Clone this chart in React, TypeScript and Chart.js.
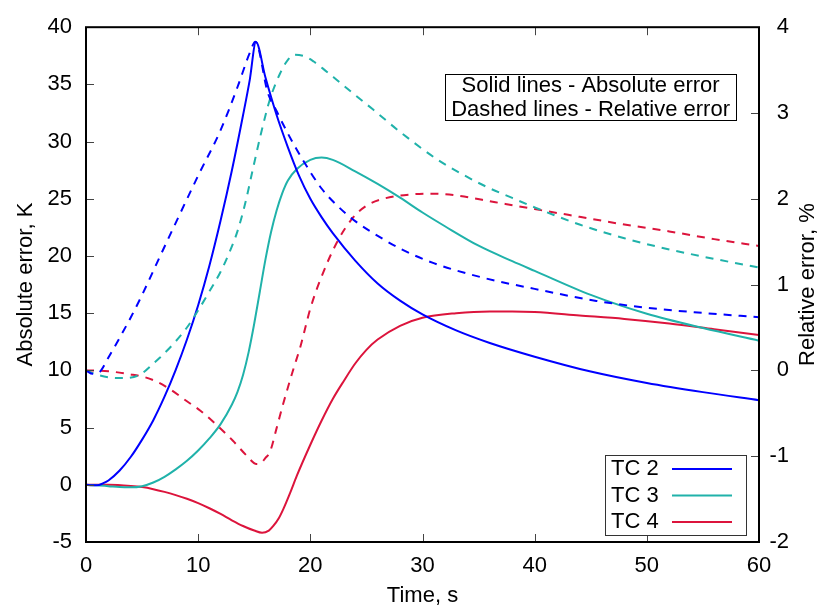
import React, { useEffect, useRef } from "react";
import { Chart, registerables } from "chart.js";

Chart.register(...registerables);

const FONT = "'Liberation Sans', Arial, Helvetica, sans-serif";
const FONT_SIZE = 22;

// ---- axes ----
const xTicks = [0, 10, 20, 30, 40, 50, 60];
const yTicks = [-5, 0, 5, 10, 15, 20, 25, 30, 35, 40];
const y2Ticks = [-2, -1, 0, 1, 2, 3, 4];
const xTitle = "Time, s";
const yTitle = "Absolute error, K";
const y2Title = "Relative error, %";
const noteLines = ["Solid lines - Absolute error", "Dashed lines - Relative error"];
const seriesNames = ["TC 2", "TC 3", "TC 4"];
const seriesColors = ["#0000ff", "#20b2aa", "#dc143c"];

// ---- TC 2 absolute error (K) ----
const tc2AbsT = [0, 0.5, 1, 1.5, 2, 3, 4, 5, 6, 7, 8, 9, 10, 11, 12, 13, 14, 14.6, 15.15, 16, 17, 18, 19, 20, 21, 22, 24, 26, 28, 30, 33, 36, 40, 45, 50, 55, 60];
const tc2AbsV = [0, -0.05, -0.05, 0.12, 0.38, 1.25, 2.45, 3.95, 5.65, 7.7, 10.05, 12.7, 15.7, 19.15, 23.1, 27.45, 32.3, 35.4, 38.7, 35.6, 32.3, 29.5, 27.0, 25.0, 23.4, 22.0, 19.6, 17.6, 16.1, 14.9, 13.5, 12.4, 11.2, 9.9, 8.9, 8.1, 7.4];

// ---- TC 3 absolute error (K) ----
const tc3AbsT = [0, 1, 2, 3, 4, 5, 6, 7, 8, 9, 10, 11, 12, 13, 13.5, 14, 14.5, 15, 15.5, 16, 16.5, 17, 17.5, 18, 18.8, 20, 21, 22, 24, 26, 28, 30, 32, 35, 38, 40, 45, 50, 55, 60];
const tc3AbsV = [0, -0.05, -0.12, -0.2, -0.22, -0.12, 0.2, 0.7, 1.35, 2.1, 3.0, 4.05, 5.3, 7.0, 8.1, 9.6, 11.6, 14.1, 16.9, 19.7, 22.1, 24.0, 25.5, 26.6, 27.6, 28.4, 28.6, 28.4, 27.4, 26.3, 25.1, 23.8, 22.6, 20.9, 19.55, 18.7, 16.6, 14.95, 13.7, 12.6];

// ---- TC 4 absolute error (K) ----
const tc4AbsT = [0, 2, 4, 5, 6, 7, 8, 9, 10, 11, 12, 13, 14, 15, 15.7, 16.3, 16.7, 17.2, 17.6, 18.2, 18.8, 20, 21, 22, 23, 24, 25, 26, 28, 30, 33, 36, 38, 40, 44, 48, 52, 56, 60];
const tc4AbsV = [0, 0, -0.1, -0.2, -0.38, -0.62, -0.9, -1.22, -1.6, -2.05, -2.55, -3.1, -3.6, -4.0, -4.2, -4.0, -3.6, -2.9, -2.1, -0.7, 0.8, 3.5, 5.6, 7.5, 9.1, 10.6, 11.8, 12.7, 13.9, 14.6, 15.0, 15.15, 15.15, 15.1, 14.8, 14.5, 14.1, 13.6, 13.1];

// ---- TC 2 relative error (%) ----
const tc2RelT = [0, 0.6, 1.2, 2, 3, 4, 5, 6.6, 8, 10, 12, 13.5, 14.6, 15.1, 16.2, 17, 18, 19.3, 21, 22.4, 24, 26.5, 28, 31, 35.4, 40, 45.5, 50, 55, 60];
const tc2RelV = [0, -0.04, -0.02, 0.15, 0.38, 0.62, 0.88, 1.33, 1.72, 2.27, 2.8, 3.3, 3.7, 3.83, 3.24, 3.02, 2.76, 2.46, 2.12, 1.92, 1.74, 1.53, 1.42, 1.25, 1.08, 0.95, 0.81, 0.73, 0.67, 0.62];

// ---- TC 3 relative error (%) ----
const tc3RelT = [0, 1, 2, 3.3, 4.8, 6, 6.6, 7.8, 9, 10, 11, 12, 12.7, 13.5, 14.2, 14.9, 15.6, 16.4, 17.3, 18, 18.6, 19.5, 20.3, 21.1, 22.5, 23.8, 25.6, 28, 31.3, 33.5, 35.7, 38, 40, 44, 48, 52, 56, 60];
const tc3RelV = [0, -0.05, -0.08, -0.09, -0.05, 0.08, 0.15, 0.31, 0.5, 0.7, 0.92, 1.15, 1.35, 1.62, 1.95, 2.36, 2.76, 3.16, 3.46, 3.62, 3.68, 3.66, 3.6, 3.52, 3.37, 3.23, 3.04, 2.78, 2.46, 2.29, 2.14, 2.01, 1.9, 1.7, 1.54, 1.41, 1.3, 1.2];

// ---- TC 4 relative error (%) ----
const tc4RelT = [0, 2, 3.9, 5, 6.3, 7.5, 9, 10.2, 11.6, 13.1, 14.3, 15.2, 15.6, 16, 16.4, 17, 17.6, 18.5, 19.1, 20, 20.9, 22.4, 23.8, 25, 26.5, 28.9, 31, 33, 36.5, 40, 44, 48, 52, 56, 60];
const tc4RelV = [0, -0.01, -0.045, -0.07, -0.13, -0.22, -0.36, -0.47, -0.63, -0.82, -0.99, -1.09, -1.08, -1.02, -0.95, -0.67, -0.38, 0.02, 0.27, 0.72, 1.06, 1.5, 1.78, 1.92, 2.0, 2.05, 2.06, 2.04, 1.96, 1.88, 1.79, 1.7, 1.62, 1.53, 1.45];

const zip = (t: number[], v: number[]) => t.map((x, i) => ({ x, y: v[i] }));

const decorPlugin = {
  id: "decor",
  afterDatasetsDraw(chart: any) {
    const { ctx, chartArea: a, scales } = chart;
    const xs = scales.x, ys = scales.y, y2s = scales.y2;
    ctx.save();
    const line = (x1: number, y1: number, x2: number, y2: number) => {
      ctx.beginPath();
      ctx.moveTo(x1, y1);
      ctx.lineTo(x2, y2);
      ctx.stroke();
    };
    // inward tick marks (gnuplot style)
    ctx.strokeStyle = "#444";
    ctx.lineWidth = 1;
    const TL = 8;
    xTicks.forEach((v, i) => {
      if (i === 0 || i === xTicks.length - 1) return;
      const px = Math.round(xs.getPixelForValue(v)) + 0.5;
      line(px, a.bottom, px, a.bottom - TL);
      line(px, a.top, px, a.top + TL);
    });
    yTicks.forEach((v, i) => {
      if (i === 0 || i === yTicks.length - 1) return;
      const py = Math.round(ys.getPixelForValue(v)) + 0.5;
      line(a.left, py, a.left + TL, py);
    });
    y2Ticks.forEach((v, i) => {
      if (i === 0 || i === y2Ticks.length - 1) return;
      const py = Math.round(y2s.getPixelForValue(v)) + 0.5;
      line(a.right, py, a.right - TL, py);
    });
    // frame
    ctx.strokeStyle = "#000";
    ctx.lineWidth = 2;
    ctx.strokeRect(a.left, a.top, a.right - a.left, a.bottom - a.top);

    ctx.font = `${FONT_SIZE}px ${FONT}`;
    ctx.fillStyle = "#000";
    ctx.textBaseline = "middle";

    // note box (top right)
    const widths = noteLines.map((s) => ctx.measureText(s).width);
    const nbW = Math.max(...widths) + 12;
    const nbH = 46;
    const nbRight = a.right - 23;
    const nbLeft = nbRight - nbW;
    const nbTop = a.top + 47;
    ctx.fillStyle = "#fff";
    ctx.fillRect(nbLeft, nbTop, nbW, nbH);
    ctx.strokeStyle = "#000";
    ctx.lineWidth = 1;
    ctx.strokeRect(Math.round(nbLeft) + 0.5, Math.round(nbTop) + 0.5, Math.round(nbW), nbH);
    ctx.fillStyle = "#000";
    ctx.textAlign = "center";
    noteLines.forEach((s, i) => {
      ctx.fillText(s, nbLeft + nbW / 2, nbTop + 12 + i * 24);
    });

    // legend box (bottom right)
    const lgW = 141, lgH = 80;
    const lgRight = a.right - 13;
    const lgBottom = a.bottom - 7;
    const lgLeft = lgRight - lgW;
    const lgTop = lgBottom - lgH;
    ctx.fillStyle = "#fff";
    ctx.fillRect(lgLeft, lgTop, lgW, lgH);
    ctx.strokeStyle = "#333";
    ctx.lineWidth = 1;
    ctx.strokeRect(Math.round(lgLeft) + 0.5, Math.round(lgTop) + 0.5, lgW, lgH);
    ctx.textAlign = "left";
    seriesNames.forEach((name, i) => {
      const yy = lgTop + 14 + i * 26.5;
      ctx.fillStyle = "#000";
      ctx.fillText(name, lgLeft + 6, yy);
      ctx.strokeStyle = seriesColors[i];
      ctx.lineWidth = 2;
      line(lgLeft + 67, yy, lgLeft + 127, yy);
    });

    // right axis title (reads bottom to top)
    ctx.fillStyle = "#000";
    ctx.textAlign = "center";
    ctx.translate(808, (a.top + a.bottom) / 2);
    ctx.rotate(-Math.PI / 2);
    ctx.fillText(y2Title, 0, 0);
    ctx.restore();
  },
};

export default function App() {
  const ref = useRef<HTMLCanvasElement>(null);
  useEffect(() => {
    document.body.style.margin = "0";
    const font = { family: FONT, size: FONT_SIZE };
    const common = {
      borderWidth: 2,
      pointRadius: 0,
      cubicInterpolationMode: "monotone" as const,
      fill: false,
    };
    const solid = (i: number, data: any[]) => ({
      ...common,
      label: seriesNames[i] + " abs",
      data,
      yAxisID: "y",
      borderColor: seriesColors[i],
      backgroundColor: seriesColors[i],
    });
    const dashed = (i: number, data: any[]) => ({
      ...common,
      label: seriesNames[i] + " rel",
      data,
      yAxisID: "y2",
      borderColor: seriesColors[i],
      backgroundColor: seriesColors[i],
      borderDash: [8, 7],
    });
    const chart = new Chart(ref.current!, {
      type: "line",
      data: {
        datasets: [
          dashed(0, zip(tc2RelT, tc2RelV)),
          dashed(1, zip(tc3RelT, tc3RelV)),
          dashed(2, zip(tc4RelT, tc4RelV)),
          solid(0, zip(tc2AbsT, tc2AbsV)),
          solid(1, zip(tc3AbsT, tc3AbsV)),
          solid(2, zip(tc4AbsT, tc4AbsV)),
        ],
      },
      options: {
        responsive: false,
        animation: false,
        devicePixelRatio: 1,
        layout: { padding: { top: 16, left: 0, right: 33, bottom: 0 } },
        plugins: { legend: { display: false }, tooltip: { enabled: false } },
        scales: {
          x: {
            type: "linear",
            min: 0,
            max: 60,
            afterBuildTicks: (s: any) => {
              s.ticks = xTicks.map((v) => ({ value: v }));
            },
            afterFit: (s: any) => {
              s.height = 69;
            },
            grid: { display: false, drawTicks: false },
            border: { display: false },
            ticks: { color: "#000", font, padding: 11, maxRotation: 0, autoSkip: false },
            title: { display: true, text: xTitle, color: "#000", font, padding: { top: 0, bottom: 2 } },
          },
          y: {
            type: "linear",
            position: "left",
            min: -5,
            max: 40,
            afterBuildTicks: (s: any) => {
              s.ticks = yTicks.map((v) => ({ value: v }));
            },
            afterFit: (s: any) => {
              s.width = 86;
            },
            grid: { display: false, drawTicks: false },
            border: { display: false },
            ticks: { color: "#000", font, padding: 14, autoSkip: false },
            title: { display: true, text: yTitle, color: "#000", font, padding: { top: 12.5, bottom: 0 } },
          },
          y2: {
            type: "linear",
            position: "right",
            min: -2,
            max: 4,
            afterBuildTicks: (s: any) => {
              s.ticks = y2Ticks.map((v) => ({ value: v }));
            },
            afterFit: (s: any) => {
              s.width = 30;
            },
            grid: { display: false, drawTicks: false },
            border: { display: false },
            ticks: { color: "#000", font, padding: 12, crossAlign: "far", autoSkip: false },
          },
        },
      },
      plugins: [decorPlugin],
    } as any);
    return () => chart.destroy();
  }, []);
  return (
    <div style={{ position: "absolute", left: 0, top: 0, width: 822, height: 611, background: "#fff" }}>
      <canvas ref={ref} width={822} height={611} style={{ display: "block" }} />
    </div>
  );
}
